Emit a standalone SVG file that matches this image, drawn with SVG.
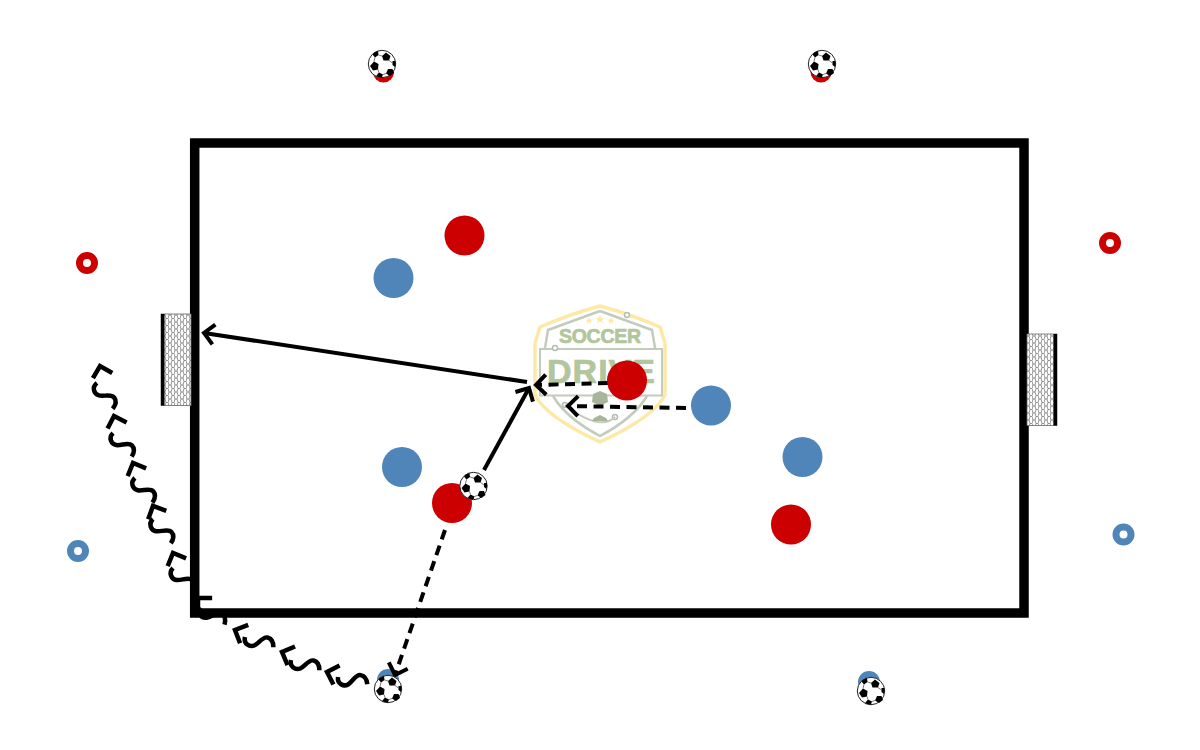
<svg xmlns="http://www.w3.org/2000/svg" xmlns:xlink="http://www.w3.org/1999/xlink" width="1200" height="750" viewBox="0 0 1200 750">
<style>
.red{fill:#cc0000}.blue{fill:#4f85b8}
.ring{fill:#fff;stroke-width:7}
.line{fill:none;stroke:#000;stroke-width:4}
.dash{stroke-dasharray:10 6.500}
.sq{fill:none;stroke:#000;stroke-width:4.500}
.logotext{font-family:"Liberation Sans",Arial,sans-serif;font-weight:700;fill:#b2c59c;stroke:#b2c59c;stroke-width:.7;text-anchor:middle}
.node{fill:#fff;stroke:#b5bdaf;stroke-width:1.500}
.shield{fill:none;stroke:#c3cbbd;stroke-width:2.500}
</style>
<defs>
<marker id="arr" markerUnits="userSpaceOnUse" markerWidth="30" markerHeight="30" refX="15" refY="15" orient="auto" overflow="visible">
<path d="M5,5 L15,15 L5,25" fill="none" stroke="#000" stroke-width="4"/>
</marker>
<pattern id="net" width="6" height="7" patternUnits="userSpaceOnUse">
<rect width="6" height="7" fill="#fff"/>
<path d="M1,0 L3,0 L4,3.500 L3,7 L1,7 L0,3.500 Z M4,3.500 L6,3.500" fill="none" stroke="#777" stroke-width=".8"/>
</pattern>
<g id="ball">
<circle r="13.700" fill="#fff" stroke="#222" stroke-width="1"/>
<polygon points="4,-11.500 8.500,-8 7,-3.500 1.500,-3.500 0,-8" fill="#000"/>
<polygon points="-8,-2.500 -3.500,0 -4,5.500 -9,6.500 -12,2" fill="#000"/>
<polygon points="6,5 10.500,5 12,9 8,12 4,9.500" fill="#000"/>
<path d="M-9.500,-9.500 A13.500,13.500 0 0 1 -4,-12.900 L-3.500,-9 L-7,-6.500Z" fill="#000"/>
<path d="M13.400,-3 A13.700,13.700 0 0 1 13,3 L10.500,1 L10.500,-3Z" fill="#000"/>
<path d="M-6,11.900 A13.500,13.500 0 0 0 0,13.500 L1,10.500 L-3,8.500Z" fill="#000"/>
<path d="M7,-3.500 L10.500,-1 M-4,5.500 L-3,8.500 M4,9.500 L1,10.500 M0,-8 L-3.500,-9 M-7,-6.500 L-8,-2.500" fill="none" stroke="#222" stroke-width=".6"/>
</g>
<path id="chev" class="sq" d="M10,-10 L0,0 L10,10"/>
<path id="wave" class="sq" d="M0,0 C0,7 7,9 11,6 C15,3 17,-5 22,-5 C27,-5 29,-1 30,3"/>
</defs>

<g id="logo">
<path d="M600,306 Q570,314 540,327 L535,343 L535,395 Q546,417 600,442 Q654,417 665,395 L665,343 L660,327 Q630,314 600,306Z" fill="#fff" stroke="#fde9a6" stroke-width="3.500"/>
<path class="shield" d="M600,311 L548,330 L545,348 M600,311 L652,330 L655,348 M553,396 Q566,418 600,436 Q634,418 647,396"/>
<rect x="540" y="349" width="122" height="46.500" fill="#fff" stroke="#c3cbbd" stroke-width="2"/>
<text class="logotext" x="600" y="343" font-size="19.500" textLength="82">SOCCER</text>
<text class="logotext" x="601" y="383" font-size="34" textLength="108">DRIVE</text>
<path d="M589,317l1,2.500 2.500,.2-2,1.600.7,2.500-2.200-1.400-2.200,1.400.7-2.500-2-1.600 2.500-.2z M600,315l1.300,3 3,.2-2.300,2 .8,3-2.800-1.700-2.800,1.700.8-3-2.300-2 3-.2z M611,317l1,2.500 2.500,.2-2,1.600.7,2.500-2.200-1.400-2.200,1.400.7-2.500-2-1.600 2.500-.2z" fill="#fde9a6"/>
<circle class="node" cx="627" cy="315" r="2.500"/>
<circle class="node" cx="555" cy="348" r="2.500"/>
<circle class="node" cx="565" cy="405" r="2.500"/>
<circle class="node" cx="615" cy="417" r="2.500"/>
<path d="M565,405 Q600,432 615,417" fill="none" stroke="#c3cbbd" stroke-width="2"/>
<polygon points="593,394 600,391 607,394 608,402 600,406 592,402" fill="#a9b59b"/>
<polygon points="594,418 600,415 606,418 608,421 592,421" fill="#a9b59b"/>
</g>

<g id="field"><rect x="194.700" y="143" width="829.300" height="470" fill="none" stroke="#000" stroke-width="9.500"/></g>

<g id="goal-left">
<rect x="161" y="314" width="30" height="91.500" fill="url(#net)" stroke="#666" stroke-width=".8"/>
<rect x="161" y="314" width="3.500" height="91.500" fill="#000"/>
</g>
<g id="goal-right">
<rect x="1027" y="334" width="30" height="91.500" fill="url(#net)" stroke="#666" stroke-width=".8"/>
<rect x="1053.500" y="334" width="3.500" height="91.500" fill="#000"/>
</g>

<g id="cone-red-1"><circle class="red" cx="383.500" cy="72" r="10.500"/></g>
<g id="cone-red-2"><circle class="red" cx="821" cy="72" r="10.500"/></g>
<g id="cone-blue-1"><circle class="blue" cx="388" cy="680" r="11"/></g>
<g id="cone-blue-2"><circle class="blue" cx="869" cy="682" r="11"/></g>

<g id="ring-red-1"><circle class="ring" cx="87" cy="263" r="7.500" stroke="#cc0000"/></g>
<g id="ring-red-2"><circle class="ring" cx="1110" cy="243" r="7.500" stroke="#cc0000"/></g>
<g id="ring-blue-1"><circle class="ring" cx="78" cy="551" r="7.500" stroke="#4f85b8"/></g>
<g id="ring-blue-2"><circle class="ring" cx="1123.500" cy="534.500" r="7.500" stroke="#4f85b8"/></g>

<g id="connectors">
<line class="line" x1="527" y1="382" x2="204" y2="333" marker-end="url(#arr)"/>
<line class="line" x1="484" y1="470" x2="529" y2="388" marker-end="url(#arr)"/>
<line class="line dash" x1="608" y1="383" x2="536" y2="385" marker-end="url(#arr)"/>
<line class="line dash" x1="686" y1="408" x2="568" y2="406" marker-end="url(#arr)"/>
<line class="line dash" x1="445" y1="530" x2="395" y2="675" marker-end="url(#arr)"/>
<g id="dribble">
<use href="#chev" transform="translate(327,672) rotate(18)"/><use href="#wave" transform="translate(338,677) rotate(8)"/>
<use href="#chev" transform="translate(282,652) rotate(22)"/><use href="#wave" transform="translate(291,660) rotate(14)"/>
<use href="#chev" transform="translate(235,630) rotate(24)"/><use href="#wave" transform="translate(245,637) rotate(14)"/>
<use href="#chev" transform="translate(198,598) rotate(45)"/><use href="#wave" transform="translate(200,607) rotate(30)"/>
<use href="#chev" transform="translate(173,553) rotate(67)"/><use href="#wave" transform="translate(173,568) rotate(45)"/>
<use href="#chev" transform="translate(153,506) rotate(65)"/><use href="#wave" transform="translate(153,519) rotate(48)"/>
<use href="#chev" transform="translate(133,463) rotate(67)"/><use href="#wave" transform="translate(135,478) rotate(49)"/>
<use href="#chev" transform="translate(114,416) rotate(72)"/><use href="#wave" transform="translate(113,433) rotate(46)"/>
<use href="#chev" transform="translate(100,366) rotate(75)"/><use href="#wave" transform="translate(97,383) rotate(53)"/>
</g>
</g>

<g id="player-red-1"><circle class="red" cx="464.500" cy="235.500" r="20"/></g>
<g id="player-red-2"><circle class="red" cx="452" cy="503" r="20"/></g>
<g id="player-red-3"><circle class="red" cx="627" cy="380.500" r="20"/></g>
<g id="player-red-4"><circle class="red" cx="791" cy="524.500" r="20"/></g>
<g id="player-blue-1"><circle class="blue" cx="393.500" cy="278" r="20"/></g>
<g id="player-blue-2"><circle class="blue" cx="402" cy="467" r="20"/></g>
<g id="player-blue-3"><circle class="blue" cx="711" cy="405.500" r="20"/></g>
<g id="player-blue-4"><circle class="blue" cx="802.500" cy="457" r="20"/></g>

<g id="ball-1"><use href="#ball" x="382" y="64"/></g>
<g id="ball-2"><use href="#ball" x="822" y="64"/></g>
<g id="ball-3"><use href="#ball" x="388" y="689"/></g>
<g id="ball-4"><use href="#ball" x="871" y="691"/></g>
<g id="ball-5"><use href="#ball" x="473.500" y="486"/></g>
</svg>
